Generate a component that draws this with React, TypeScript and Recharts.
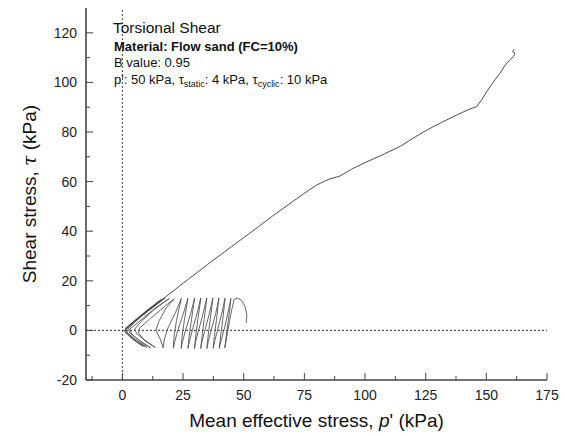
import React from 'react';
import { ComposedChart, Line, XAxis, YAxis, ReferenceLine } from 'recharts';

const W = 565;
const H = 436;
const FONT = '"Liberation Sans", Arial, Helvetica, sans-serif';
const AXIS = '#444';
const INK = '#111';

// tick values
const xTicks = [-12.5, 0, 12.5, 25, 37.5, 50, 62.5, 75, 87.5, 100, 112.5, 125, 137.5, 150, 162.5, 175];
const yTicks = [-20, -10, 0, 10, 20, 30, 40, 50, 60, 70, 80, 90, 100, 110, 120];

// cyclic phase: p' (kPa) and tau (kPa)
const cyclicP = [
  51.0, 51.3, 50.6, 49.2, 47.6, 46.1, 45.2, 44.2, 43.3, 42.6, 42.2,
  42.7, 43.5, 44.3, 44.7, 43.7, 42.1, 40.7, 39.9,
  40.4, 41.3, 42.0, 42.3, 41.0, 39.2, 38.0, 37.4,
  37.9, 38.8, 39.5, 39.8, 38.5, 36.6, 35.4, 34.8,
  35.3, 36.2, 37.0, 37.3, 35.9, 34.0, 32.8, 32.3,
  32.8, 33.7, 34.5, 34.8, 33.3, 31.4, 30.2, 29.7,
  30.2, 31.1, 32.0, 32.3, 30.8, 28.8, 27.6, 27.0,
  27.5, 28.5, 29.4, 29.8, 28.2, 26.0, 24.8, 24.2,
  24.6, 25.6, 26.6, 27.0, 25.2, 22.8, 21.6, 21.0,
  21.3, 22.3, 23.6, 24.3, 22.0, 18.8, 17.3, 16.8,
  15.6, 13.8, 15.2, 18.0, 21.4, 17.2, 11.2, 7.2, 6.6, 9.2, 13.6,
  10.2, 6.0, 5.0, 8.2, 13.2, 19.2, 13.0, 6.2, 3.0, 4.0, 8.0, 11.6,
  7.0, 3.0, 2.5, 7.0, 12.2, 17.6, 10.2, 3.2, 1.5, 2.5, 6.0, 10.0,
  5.2, 1.6, 1.2, 6.0, 11.0, 16.0, 8.0, 1.6, 1.0, 4.2, 8.6,
  3.2, 0.8,
];
const cyclicTau = [
  3.0, 6.0, 9.5, 12.0, 13.0, 12.6, 9.0, 4.0, -1.0, -5.0, -7.0,
  -3.0, 3.0, 9.0, 12.9, 8.0, 1.0, -4.0, -7.2,
  -3.0, 4.0, 10.0, 13.0, 7.0, 0.0, -4.5, -7.2,
  -2.5, 4.5, 10.5, 13.1, 7.0, 0.0, -4.5, -7.3,
  -2.5, 4.5, 10.5, 13.1, 7.0, 0.0, -4.5, -7.3,
  -2.5, 4.5, 10.5, 13.1, 7.0, 0.0, -4.5, -7.3,
  -2.5, 4.5, 10.5, 13.1, 7.0, 0.0, -4.5, -7.3,
  -2.5, 4.5, 10.5, 13.1, 7.0, 0.0, -4.5, -7.2,
  -2.5, 4.5, 10.5, 13.0, 7.0, 0.0, -4.5, -7.2,
  -2.5, 4.0, 10.0, 12.9, 7.5, 1.0, -3.5, -7.0,
  -3.5, 0.0, 4.0, 9.0, 12.8, 9.5, 4.5, 1.0, -1.0, -4.2, -6.9,
  -4.6, -1.5, 0.5, 4.0, 8.5, 12.8, 8.6, 3.0, 0.5, -1.6, -5.0, -7.0,
  -4.0, -1.0, 0.8, 5.0, 9.2, 13.0, 7.5, 2.0, 0.3, -1.6, -4.6, -6.8,
  -3.5, -0.8, 0.8, 4.8, 8.8, 12.5, 6.2, 1.0, -0.5, -3.6, -6.5,
  -2.4, -0.3,
];

// monotonic loading after liquefaction
const monoP = [
  0.8, 2.5, 5, 10, 15.8, 25, 35, 45, 55, 62, 70, 76, 80, 85, 89.8, 95, 100.8, 108,
  114.5, 120, 125.5, 131, 137.9, 143, 146, 147, 148.1, 150, 151.6, 153.5, 155.7,
  157.5, 159.8, 161.2, 161.8, 160.8, 161.6,
];
const monoTau = [
  -0.3, 1.5, 3.7, 7.6, 12, 19, 26.5, 33.8, 41, 46.2, 51.8, 56, 58.6, 60.9, 62.3, 65.3, 68, 71.2,
  74.2, 77.6, 80.8, 83.6, 86.9, 89.2, 90.2, 91.6, 93, 96, 98.3, 101, 103.8,
  106.6, 109.2, 110.4, 111.8, 112.4, 113.4,
];

const cyclicData = cyclicP.map((p, i) => ({ p, tau: cyclicTau[i] }));
const monoData = monoP.map((p, i) => ({ p, tau: monoTau[i] }));

const MAJOR = 7;
const MINOR = 4;

const BottomTick = (props: any) => {
  const { x, y, payload } = props;
  const v = payload.value;
  const major = v % 25 === 0;
  return (
    <g>
      <line x1={x} y1={y} x2={x} y2={y - (major ? MAJOR : MINOR)} stroke={AXIS} strokeWidth={1} />
      {major && (
        <text x={x} y={y + 19.5} textAnchor="middle" fontSize={14} fill="#222" fontFamily={FONT}>
          {v}
        </text>
      )}
    </g>
  );
};

const TopTick = (props: any) => {
  const { x, y, payload } = props;
  const major = payload.value % 25 === 0;
  return <line x1={x} y1={y} x2={x} y2={y + (major ? MAJOR : MINOR)} stroke={AXIS} strokeWidth={1} />;
};

const LeftTick = (props: any) => {
  const { x, y, payload } = props;
  const v = payload.value;
  const major = v % 20 === 0;
  return (
    <g>
      <line x1={x} y1={y} x2={x + (major ? MAJOR : MINOR)} y2={y} stroke={AXIS} strokeWidth={1} />
      {major && (
        <text x={x - 9} y={y + 5} textAnchor="end" fontSize={14} fill="#222" fontFamily={FONT}>
          {v}
        </text>
      )}
    </g>
  );
};

const RightTick = (props: any) => {
  const { x, y, payload } = props;
  const major = payload.value % 20 === 0;
  return <line x1={x} y1={y} x2={x - (major ? MAJOR : MINOR)} y2={y} stroke={AXIS} strokeWidth={1} />;
};

const frame = { stroke: AXIS, strokeWidth: 1.6 };

export default function App() {
  return (
    <div style={{ position: 'absolute', left: 0, top: 0, width: W, height: H, background: '#fff' }}>
      <ComposedChart width={W} height={H} margin={{ top: 8, right: 18, left: 0, bottom: 0 }}>
        <XAxis
          type="number"
          dataKey="p"
          domain={[-15, 175]}
          ticks={xTicks}
          interval={0}
          allowDataOverflow
          height={56}
          tickSize={0}
          tickMargin={0}
          tickLine={false}
          axisLine={frame}
          tick={(p: any) => <BottomTick {...p} />}
        />
        <XAxis
          xAxisId="top"
          orientation="top"
          type="number"
          dataKey="p"
          domain={[-15, 175]}
          ticks={xTicks}
          interval={0}
          allowDataOverflow
          height={0}
          tickSize={0}
          tickMargin={0}
          tickLine={false}
          axisLine={frame}
          tick={(p: any) => <TopTick {...p} />}
        />
        <YAxis
          type="number"
          dataKey="tau"
          domain={[-20, 130]}
          ticks={yTicks}
          interval={0}
          allowDataOverflow
          width={86}
          tickSize={0}
          tickMargin={0}
          tickLine={false}
          axisLine={frame}
          tick={(p: any) => <LeftTick {...p} />}
        />
        <YAxis
          yAxisId="right"
          orientation="right"
          type="number"
          dataKey="tau"
          domain={[-20, 130]}
          ticks={yTicks}
          interval={0}
          allowDataOverflow
          width={0}
          tickSize={0}
          tickMargin={0}
          tickLine={false}
          axisLine={frame}
          tick={(p: any) => <RightTick {...p} />}
        />
        <ReferenceLine x={0} stroke="#555" strokeDasharray="2 2" strokeWidth={1.1} />
        <ReferenceLine y={0} stroke="#555" strokeDasharray="2 2" strokeWidth={1.1} />
        <Line
          data={cyclicData}
          dataKey="tau"
          type="linear"
          stroke="#555"
          strokeWidth={0.9}
          dot={false}
          activeDot={false}
          isAnimationActive={false}
        />
        <Line
          data={monoData}
          dataKey="tau"
          type="linear"
          stroke="#3a3a3a"
          strokeWidth={0.9}
          dot={false}
          activeDot={false}
          isAnimationActive={false}
        />
      </ComposedChart>
      <svg
        width={W}
        height={H}
        style={{ position: 'absolute', left: 0, top: 0, pointerEvents: 'none' }}
        fontFamily={FONT}
      >
        <text x={113} y={33} fontSize={15.5} fill={INK}>Torsional Shear</text>
        <text x={114} y={50.5} fontSize={13} fontWeight="bold" fill={INK}>Material: Flow sand (FC=10%)</text>
        <text x={114} y={67} fontSize={13} fill={INK}>B value: 0.95</text>
        <text x={114} y={84} fontSize={13} fill={INK}>
          <tspan fill={INK}>p': 50 kPa, τ</tspan>
          <tspan fill={INK} fontSize={9} dy={3}>static</tspan>
          <tspan fill={INK} dy={-3}>: 4 kPa, τ</tspan>
          <tspan fill={INK} fontSize={9} dy={3}>cyclic</tspan>
          <tspan fill={INK} dy={-3}>: 10 kPa</tspan>
        </text>
        <text x={316.5} y={427} fontSize={19} textAnchor="middle" fill={INK}>
          Mean effective stress, <tspan fontStyle="italic">p</tspan>' (kPa)
        </text>
        <text x={36} y={194} fontSize={19} textAnchor="middle" fill={INK} transform="rotate(-90 36 194)">
          Shear stress, <tspan fontStyle="italic" fontFamily='"DejaVu Serif", serif'>τ</tspan> (kPa)
        </text>
      </svg>
    </div>
  );
}
